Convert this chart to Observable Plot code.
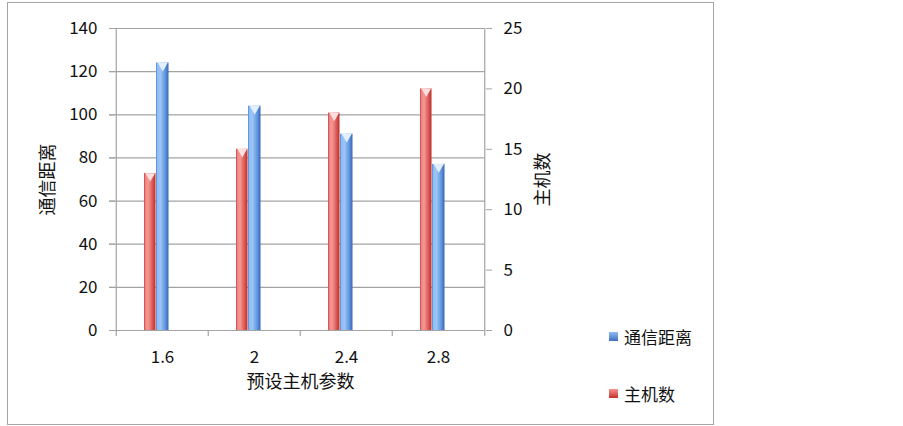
<!DOCTYPE html>
<html>
<head>
<meta charset="utf-8">
<script src="https://cdn.jsdelivr.net/npm/d3@7"></script>
<script src="https://cdn.jsdelivr.net/npm/@observablehq/plot@0.6"></script>
<style>
  body { margin: 0; background: #fff; }
  #wrap { position: relative; width: 903px; height: 426px; font-family: "Noto Sans CJK SC", "Noto Sans", sans-serif; }
  #frame { position: absolute; left: 7px; top: 2px; width: 707px; height: 423px; border: 1.5px solid #a6a6a6; box-sizing: border-box; pointer-events: none; }
  .leg { position: absolute; font-size: 17px; color: #111; display: flex; align-items: center; }
  .sw { width: 9px; height: 9px; margin-right: 6px; }
</style>
</head>
<body>
<div id="wrap">
  <div id="frame"></div>
  <div id="chart"></div>
  <div class="leg" style="left:609px; top:324px;"><span class="sw" style="background:linear-gradient(#8fbcf3,#3e70c2)"></span>通信距离</div>
  <div class="leg" style="left:609px; top:381px;"><span class="sw" style="background:linear-gradient(#f49490,#c8302c)"></span>主机数</div>
</div>
<script>
const categories = ["1.6", "2", "2.4", "2.8"];
const distance = [124, 104, 91, 77];      // 通信距离 (left axis)
const hosts = [13, 15, 18, 20];           // 主机数 (right axis)
const leftTicks = [0, 20, 40, 60, 80, 100, 120, 140];
const rightTicks = [0, 5, 10, 15, 20, 25];

const leftMax = 140, rightMax = 25;
const k = leftMax / rightMax;

const W = 903, H = 426;
const mL = 115, mR = 418, mT = 28, mB = 96;
const bw = (W - mL - mR) / categories.length;

const distData = categories.map((c, i) => ({cat: c, v: distance[i]}));
const hostData = categories.map((c, i) => ({cat: c, v: hosts[i] * k}));

const grid = "#a3a3a3";
const ink = "#111";

const plot = Plot.plot({
  width: W, height: H,
  marginLeft: mL, marginRight: mR, marginTop: mT, marginBottom: mB,
  style: {fontFamily: '"Noto Sans CJK SC", "Noto Sans", sans-serif', fontSize: "17px", color: ink, background: "transparent"},
  x: {domain: categories, padding: 0},
  y: {domain: [0, leftMax]},
  marks: [
    Plot.ruleY(leftTicks, {stroke: grid, strokeWidth: 1.2, insetLeft: -6}),
    Plot.axisY(leftTicks, {anchor: "left", tickSize: 6, tickPadding: 12, stroke: grid, fill: ink, label: null}),
    Plot.ruleX([categories[0]], {dx: -bw / 2, stroke: grid, strokeWidth: 1.2}),
    Plot.axisY(rightTicks.map(d => d * k), {anchor: "right", tickSize: 6, tickPadding: 12, stroke: grid, fill: ink, tickFormat: d => Math.round(d / k), label: null}),
    Plot.ruleX([categories[categories.length - 1]], {dx: bw / 2, stroke: grid, strokeWidth: 1.2}),
    Plot.ruleX(categories, {dx: -bw / 2, stroke: grid, strokeWidth: 1.2, insetTop: 296, dy: 6}),
    Plot.ruleX([categories[categories.length - 1]], {dx: bw / 2, stroke: grid, strokeWidth: 1.2, insetTop: 296, dy: 6}),
    Plot.axisX({tickSize: 0, tickPadding: 20, label: null, fill: ink}),
    // bars
    Plot.barY(hostData, {x: "cat", y: "v", fill: "url(#gRed)", insetLeft: 28, insetRight: bw - 40}),
    Plot.barY(distData, {x: "cat", y: "v", fill: "url(#gBlue)", insetLeft: 40, insetRight: bw - 53}),
    // light caps on bar tops
    Plot.dot(hostData, {x: "cat", y: "v", dx: 34 - bw / 2, dy: 2.5, symbol: "triangle", rotate: 180, r: 3.6, fill: "#fbe0df", stroke: "none"}),
    Plot.dot(distData, {x: "cat", y: "v", dx: 46.5 - bw / 2, dy: 2.5, symbol: "triangle", rotate: 180, r: 3.8, fill: "#e3efff", stroke: "none"}),
    // axis titles
    Plot.text(["通信距离"], {frameAnchor: "left", dx: -67, rotate: -90, textAnchor: "middle", fontSize: 18, fill: ink}),
    Plot.text(["主机数"], {frameAnchor: "right", dx: 58, rotate: -90, textAnchor: "middle", fontSize: 18, fill: ink}),
    Plot.text(["预设主机参数"], {frameAnchor: "bottom", dy: 57, fontSize: 18, fill: ink})
  ]
});

const defs = d3.select(plot).insert("defs", ":first-child");
function grad(id, stops) {
  const g = defs.append("linearGradient").attr("id", id).attr("x1", "0").attr("x2", "1").attr("y1", "0").attr("y2", "0");
  stops.forEach(([o, c]) => g.append("stop").attr("offset", o).attr("stop-color", c));
}
grad("gRed", [[0, "#c2403c"], [0.12, "#ee8380"], [0.35, "#f39a97"], [0.75, "#dc5551"], [1, "#b8302c"]]);
grad("gBlue", [[0, "#4f84d0"], [0.12, "#8fbcf3"], [0.35, "#9ec6f6"], [0.75, "#5f94dc"], [1, "#3566b5"]]);

document.getElementById("chart").appendChild(plot);
</script>
</body>
</html>
